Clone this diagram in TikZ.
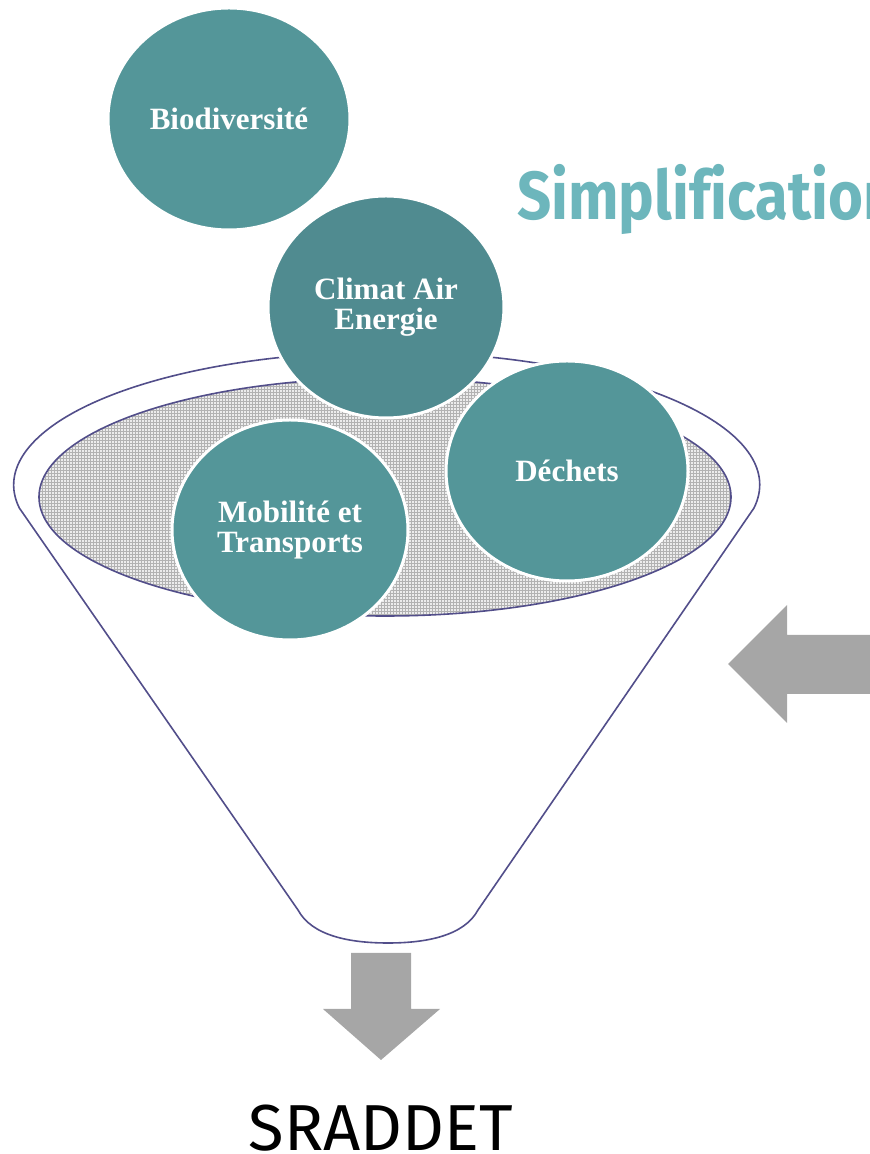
\documentclass[tikz,border=0pt]{standalone}
\usepackage{fontspec}
\setmainfont{Liberation Serif}
\newfontfamily\titlefont[FakeStretch=0.88, Ligatures=NoCommon]{Fira Sans}
\newfontfamily\resultfont{Fira Sans}
\usetikzlibrary{shapes.geometric, patterns}
\definecolor{themeteal}{RGB}{84,150,153}
\definecolor{themetealdark}{RGB}{80,139,144}
\definecolor{titleteal}{RGB}{109,182,188}
\definecolor{funnelline}{RGB}{82,78,138}
\definecolor{arrowgray}{RGB}{166,166,166}
\begin{document}
\begin{tikzpicture}[x=1pt, y=1pt]
      % Styles
      \tikzset{theme/.style={ellipse, draw=white, line width=3pt, fill=themeteal, inner sep=0pt,
          text=white, align=center, font=\fontsize{31}{30}\selectfont\bfseries}}
      \tikzset{funnel/.style={draw=funnelline, line width=1.6pt, fill=white}}
      \tikzset{bigarrow/.style={fill=arrowgray, draw=none}}

      % --- Page frame ---
      \useasboundingbox (0,0) rectangle (870,1154);
      \clip (0,0) rectangle (870,1154);

      % --- The funnel body ---
      \draw[funnel] (754,646) arc (-10:190:373 and 133) -- (298,244)
        .. controls (312,218) and (350,211) .. (388,211)
        .. controls (426,211) and (464,218) .. (478,244) -- cycle;
      \fill[gray!15] (385,657) ellipse [x radius=346, y radius=119];
      \path[pattern=grid, pattern color=gray!60] (385,657) ellipse [x radius=346, y radius=119];
      \draw[funnelline, line width=1.6pt] (385,657) ellipse [x radius=346, y radius=119];

      % --- The themes falling in ---
      \node[theme, minimum width=242pt, minimum height=222pt] (biodiv) at (229,1035) {Biodiversit\'e};
      \node[theme, fill=themetealdark, minimum width=236pt, minimum height=222pt] (climat) at (386,847) {Climat Air\\Energie};
      \node[theme, minimum width=242pt, minimum height=220pt] (dechets) at (567,683) {D\'echets};
      \node[theme, minimum width=236pt, minimum height=220pt] (mobilite) at (290,624) {Mobilit\'e et\\Transports};

      % --- Title ---
      \node[anchor=base west, inner sep=0pt, text=titleteal, font=\titlefont\fontsize{68}{68}\selectfont\bfseries] (simplif) at (517,934) {Simplification};

      % --- Block arrows ---
      \fill[bigarrow] (728,490) -- (787,549) -- (787,519) -- (880,519) -- (880,460) -- (787,460) -- (787,431) -- cycle;
      \fill[bigarrow] (351,201) -- (411,201) -- (411,145) -- (440,145) -- (381,94) -- (323,145) -- (351,145) -- cycle;

      % --- Result ---
      \node[anchor=base, inner sep=0pt, font=\resultfont\fontsize{65}{65}\selectfont] (sraddet) at (381,4) {SRADDET};

    \end{tikzpicture}
\end{document}
